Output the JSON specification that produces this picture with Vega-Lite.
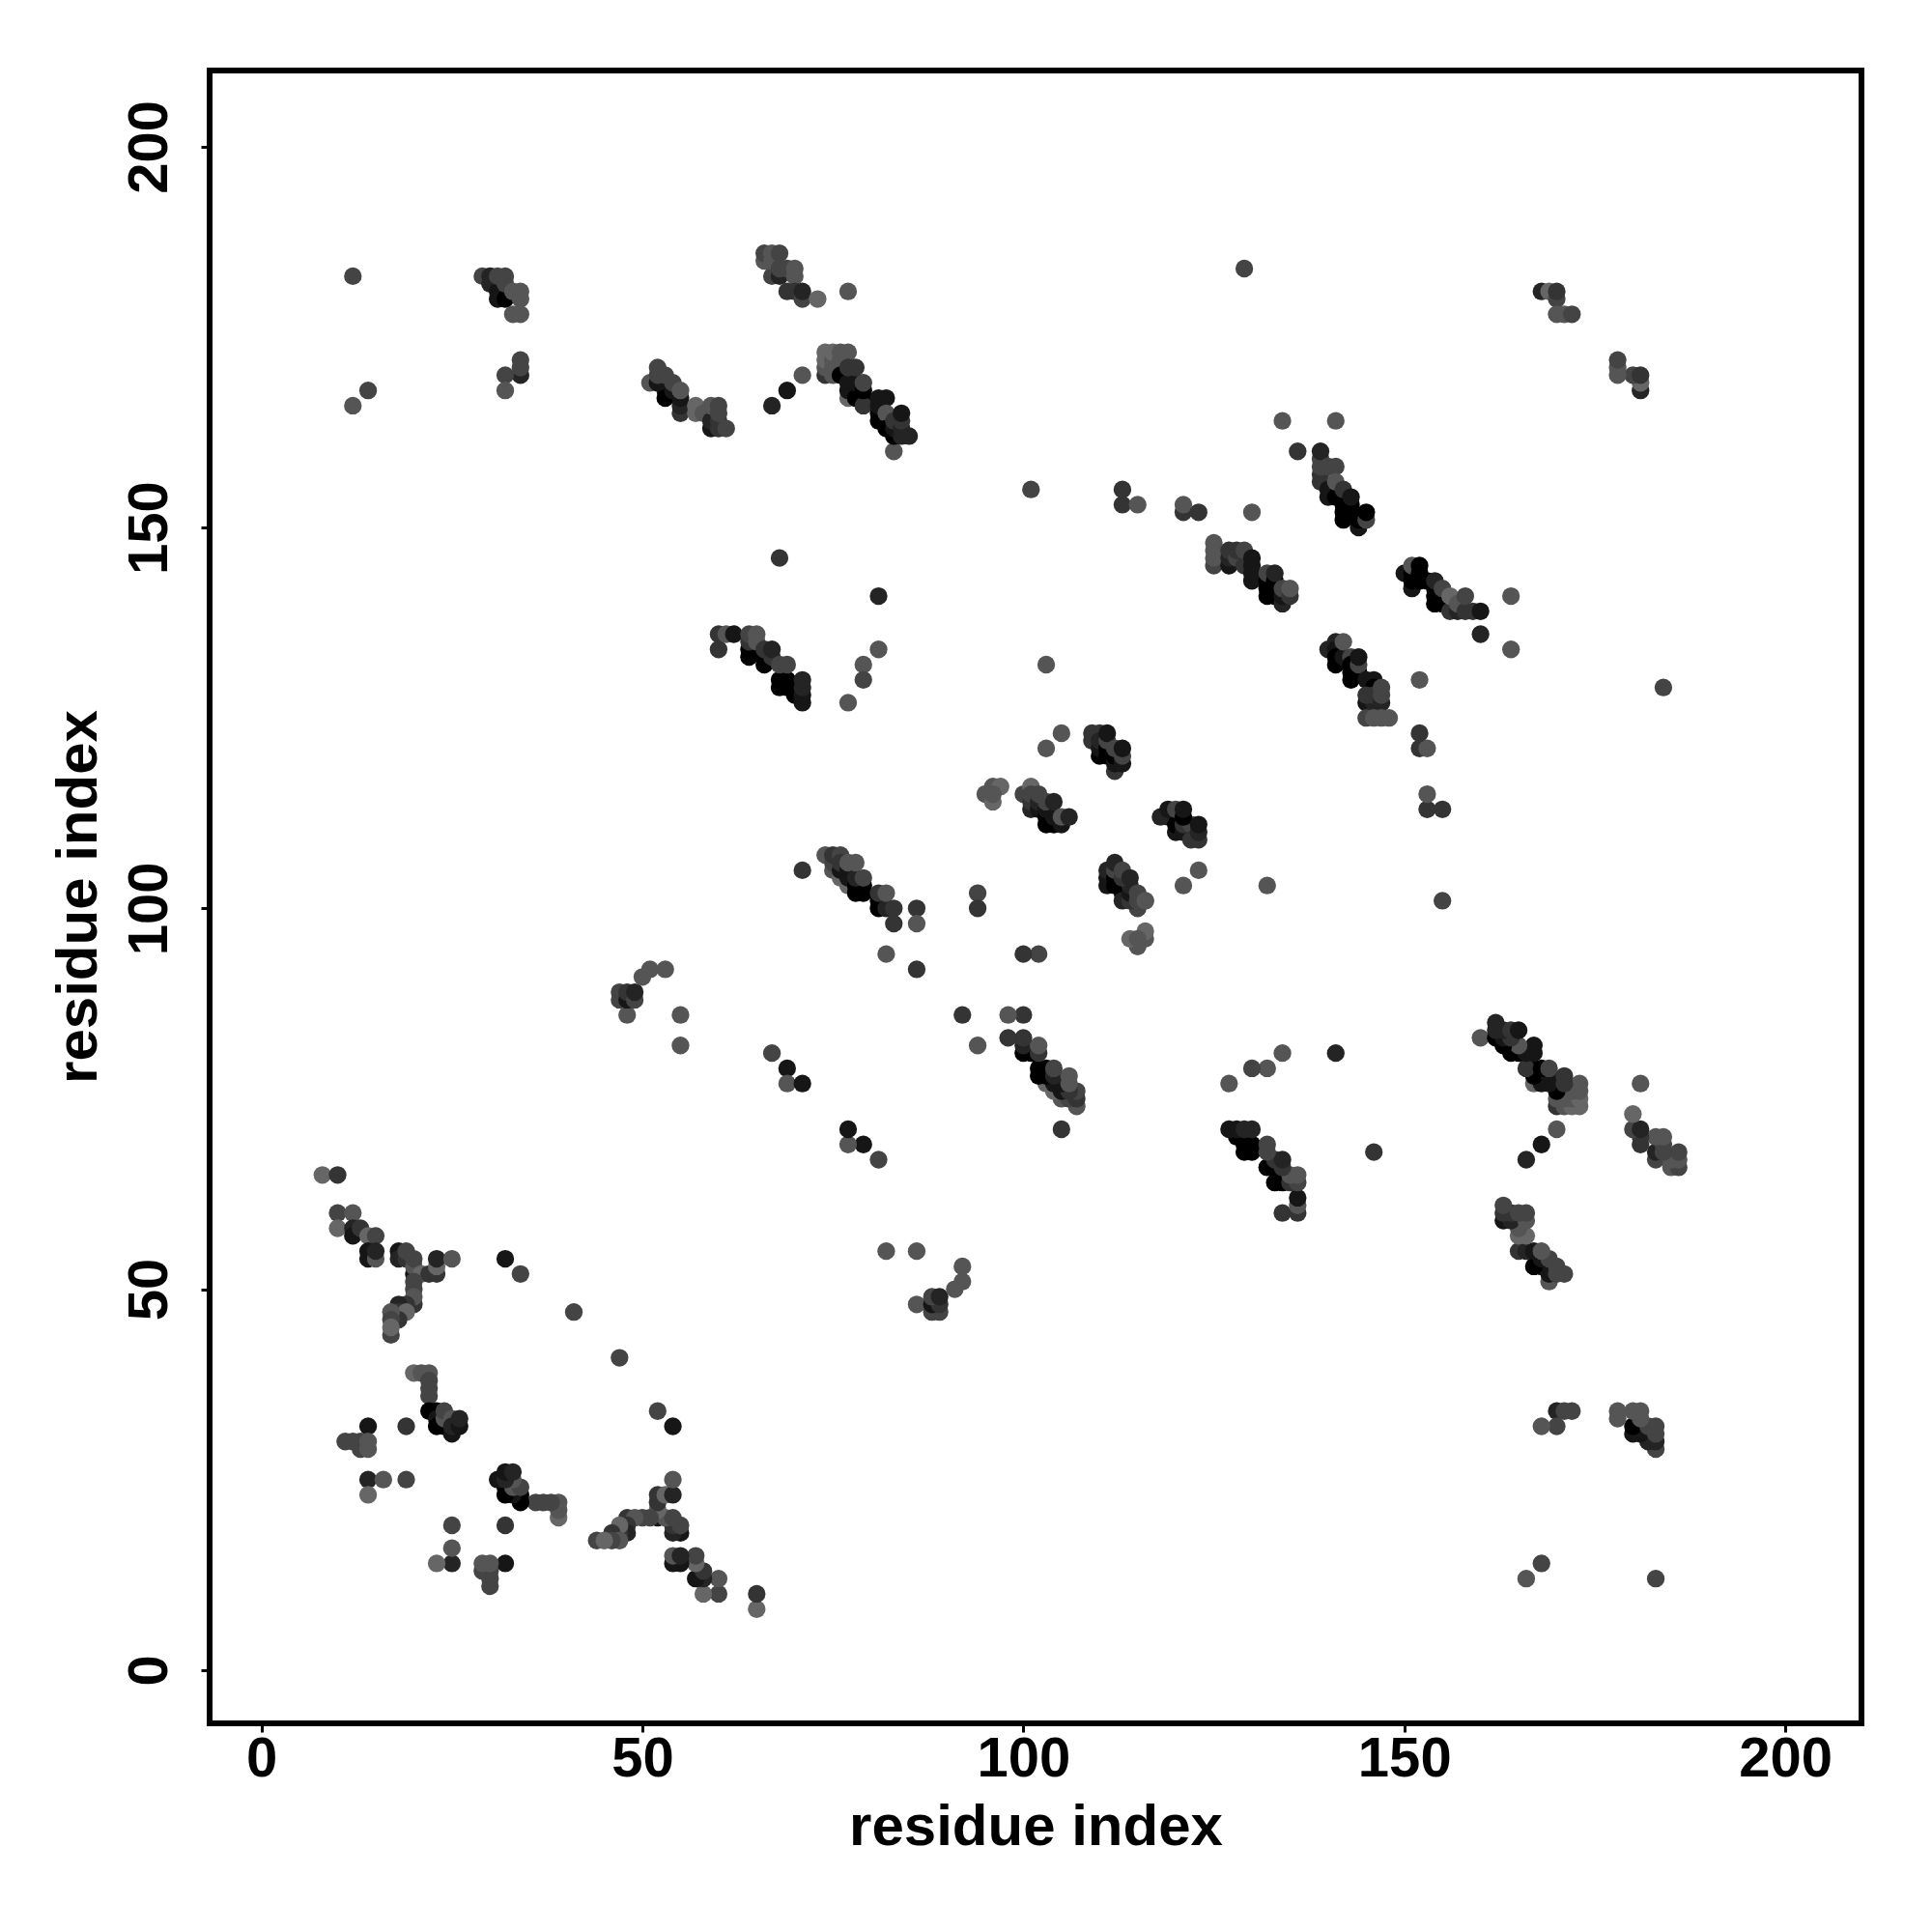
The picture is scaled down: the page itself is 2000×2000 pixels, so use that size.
{"$schema":"https://vega.github.io/schema/vega-lite/v6.json","autosize":{"type":"none"},"padding":{"left":217,"top":73,"right":73,"bottom":216},"width":1710,"height":1711,"background":"white","view":{"stroke":"#000000","strokeWidth":6,"fill":null},
"config":{"axis":{"grid":false,"domain":false,"tickColor":"#000","tickSize":9,"tickWidth":3,"labelFont":"Liberation Sans","labelFontWeight":"bold","labelFontSize":58,"labelColor":"#000","titleFont":"Liberation Sans","titleFontWeight":"bold","titleFontSize":60,"titleColor":"#000"}},
"data":{"values":[
{"x":8,"y":65,"c":6},{"x":10,"y":65,"c":3},{"x":10,"y":60,"c":4},{"x":12,"y":60,"c":5},{"x":10,"y":58,"c":6},{"x":12,"y":58,"c":2},{"x":12,"y":57,"c":1},{"x":13,"y":58,"c":3},{"x":14,"y":57,"c":6},{"x":15,"y":57,"c":4},{"x":14,"y":55,"c":1},{"x":14,"y":54,"c":1},{"x":15,"y":54,"c":5},{"x":15,"y":55,"c":2},{"x":18,"y":55,"c":1},{"x":18,"y":54,"c":2},{"x":19,"y":54,"c":3},{"x":19,"y":55,"c":4},{"x":20,"y":52,"c":1},{"x":20,"y":53,"c":5},{"x":20,"y":54,"c":4},{"x":21,"y":52,"c":6},{"x":22,"y":52,"c":3},{"x":23,"y":52,"c":3},{"x":23,"y":53,"c":6},{"x":23,"y":54,"c":2},{"x":25,"y":54,"c":5},{"x":32,"y":54,"c":1},{"x":34,"y":52,"c":4},{"x":41,"y":47,"c":4},{"x":20,"y":51,"c":4},{"x":20,"y":50,"c":4},{"x":20,"y":48,"c":3},{"x":20,"y":49,"c":5},{"x":19,"y":48,"c":3},{"x":18,"y":48,"c":2},{"x":18,"y":47,"c":3},{"x":19,"y":47,"c":6},{"x":18,"y":46,"c":3},{"x":17,"y":47,"c":5},{"x":17,"y":46,"c":4},{"x":17,"y":44,"c":4},{"x":17,"y":45,"c":6},
{"x":20,"y":39,"c":6},{"x":21,"y":39,"c":5},{"x":22,"y":39,"c":5},{"x":22,"y":38,"c":4},{"x":22,"y":37,"c":4},{"x":22,"y":36,"c":4},{"x":22,"y":34,"c":0},{"x":23,"y":34,"c":0},{"x":23,"y":33,"c":1},{"x":23,"y":32,"c":0},{"x":24,"y":32,"c":0},{"x":24,"y":33,"c":5},{"x":24,"y":34,"c":4},{"x":25,"y":31,"c":1},{"x":25,"y":33,"c":5},{"x":25,"y":32,"c":2},{"x":26,"y":32,"c":1},{"x":26,"y":33,"c":2},
{"x":14,"y":32,"c":1},{"x":19,"y":32,"c":3},{"x":11,"y":30,"c":4},{"x":12,"y":30,"c":4},{"x":13,"y":30,"c":4},{"x":13,"y":29,"c":4},{"x":14,"y":29,"c":5},{"x":14,"y":30,"c":5},{"x":14,"y":25,"c":2},{"x":16,"y":25,"c":5},{"x":19,"y":25,"c":4},{"x":14,"y":23,"c":6},
{"x":12,"y":183,"c":4},{"x":12,"y":166,"c":5},{"x":14,"y":168,"c":4},{"x":29,"y":183,"c":4},{"x":30,"y":183,"c":2},{"x":30,"y":182,"c":2},{"x":31,"y":181,"c":1},{"x":31,"y":180,"c":1},{"x":32,"y":180,"c":0},{"x":31,"y":183,"c":4},{"x":32,"y":183,"c":4},{"x":32,"y":182,"c":4},{"x":33,"y":181,"c":5},{"x":34,"y":181,"c":5},{"x":34,"y":180,"c":5},{"x":33,"y":178,"c":5},{"x":34,"y":178,"c":5},{"x":34,"y":170,"c":2},{"x":34,"y":172,"c":4},{"x":34,"y":171,"c":4},{"x":32,"y":170,"c":4},{"x":32,"y":168,"c":5},
{"x":51,"y":169,"c":5},{"x":52,"y":169,"c":1},{"x":53,"y":169,"c":1},{"x":53,"y":168,"c":1},{"x":53,"y":167,"c":0},{"x":54,"y":168,"c":1},{"x":52,"y":171,"c":4},{"x":52,"y":170,"c":4},{"x":53,"y":170,"c":4},{"x":54,"y":169,"c":4},{"x":55,"y":165,"c":3},{"x":55,"y":166,"c":2},{"x":55,"y":167,"c":1},{"x":55,"y":168,"c":5},{"x":57,"y":165,"c":6},{"x":57,"y":166,"c":6},{"x":58,"y":165,"c":5},{"x":59,"y":163,"c":1},{"x":59,"y":164,"c":2},{"x":60,"y":163,"c":3},{"x":60,"y":164,"c":3},{"x":59,"y":166,"c":5},{"x":60,"y":165,"c":4},{"x":60,"y":166,"c":4},{"x":61,"y":163,"c":4},
{"x":66,"y":185,"c":5},{"x":66,"y":186,"c":4},{"x":67,"y":183,"c":4},{"x":67,"y":185,"c":5},{"x":67,"y":186,"c":5},{"x":68,"y":186,"c":4},{"x":68,"y":183,"c":2},{"x":68,"y":184,"c":4},{"x":69,"y":181,"c":3},{"x":69,"y":184,"c":4},{"x":70,"y":183,"c":5},{"x":70,"y":184,"c":5},{"x":70,"y":181,"c":3},{"x":71,"y":180,"c":4},{"x":71,"y":181,"c":2},{"x":73,"y":180,"c":6},{"x":77,"y":181,"c":5},
{"x":74,"y":170,"c":3},{"x":74,"y":171,"c":5},{"x":74,"y":172,"c":6},{"x":74,"y":173,"c":6},{"x":75,"y":170,"c":5},{"x":75,"y":171,"c":5},{"x":75,"y":172,"c":5},{"x":75,"y":173,"c":6},{"x":76,"y":172,"c":5},{"x":76,"y":173,"c":5},{"x":77,"y":173,"c":5},{"x":77,"y":167,"c":6},{"x":76,"y":170,"c":0},{"x":77,"y":169,"c":1},{"x":77,"y":168,"c":1},{"x":78,"y":168,"c":1},{"x":78,"y":167,"c":0},{"x":79,"y":167,"c":0},{"x":79,"y":166,"c":3},{"x":78,"y":169,"c":1},{"x":79,"y":168,"c":0},{"x":79,"y":169,"c":4},{"x":77,"y":171,"c":3},{"x":78,"y":171,"c":3},{"x":81,"y":164,"c":0},{"x":81,"y":165,"c":0},{"x":81,"y":166,"c":1},{"x":81,"y":167,"c":1},{"x":82,"y":167,"c":1},{"x":82,"y":165,"c":5},{"x":82,"y":163,"c":0},{"x":83,"y":160,"c":5},{"x":83,"y":162,"c":0},{"x":83,"y":163,"c":1},{"x":83,"y":164,"c":3},{"x":84,"y":162,"c":2},{"x":84,"y":163,"c":2},{"x":84,"y":164,"c":3},{"x":84,"y":165,"c":1},{"x":85,"y":162,"c":2},{"x":71,"y":170,"c":5},{"x":69,"y":168,"c":1},{"x":67,"y":166,"c":2},{"x":68,"y":146,"c":3},{"x":81,"y":141,"c":2},
{"x":60,"y":136,"c":3},{"x":60,"y":134,"c":3},{"x":61,"y":136,"c":5},{"x":62,"y":136,"c":1},{"x":64,"y":133,"c":0},{"x":64,"y":134,"c":0},{"x":64,"y":135,"c":3},{"x":64,"y":136,"c":4},{"x":65,"y":135,"c":5},{"x":65,"y":136,"c":5},{"x":66,"y":132,"c":0},{"x":66,"y":133,"c":0},{"x":66,"y":134,"c":3},{"x":67,"y":133,"c":3},{"x":67,"y":134,"c":2},{"x":68,"y":129,"c":0},{"x":68,"y":130,"c":0},{"x":69,"y":129,"c":0},{"x":69,"y":130,"c":0},{"x":68,"y":132,"c":4},{"x":69,"y":132,"c":4},{"x":70,"y":128,"c":0},{"x":71,"y":127,"c":1},{"x":71,"y":128,"c":1},{"x":71,"y":129,"c":2},{"x":71,"y":130,"c":2},{"x":81,"y":134,"c":5},{"x":79,"y":132,"c":5},{"x":79,"y":130,"c":4},{"x":77,"y":127,"c":5},
{"x":121,"y":152,"c":3},{"x":121,"y":153,"c":5},{"x":123,"y":152,"c":3},{"x":130,"y":152,"c":5},{"x":113,"y":155,"c":3},{"x":113,"y":153,"c":3},{"x":115,"y":153,"c":5},{"x":101,"y":155,"c":4},{"x":129,"y":184,"c":4},{"x":103,"y":132,"c":5},{"x":105,"y":123,"c":5},{"x":103,"y":121,"c":5},
{"x":71,"y":105,"c":3},{"x":74,"y":107,"c":5},{"x":75,"y":105,"c":5},{"x":76,"y":104,"c":6},{"x":77,"y":103,"c":6},{"x":75,"y":106,"c":4},{"x":75,"y":107,"c":3},{"x":76,"y":107,"c":4},{"x":76,"y":105,"c":1},{"x":76,"y":106,"c":3},{"x":77,"y":104,"c":1},{"x":77,"y":105,"c":1},{"x":77,"y":106,"c":5},{"x":78,"y":102,"c":0},{"x":78,"y":103,"c":0},{"x":79,"y":102,"c":0},{"x":79,"y":103,"c":0},{"x":78,"y":104,"c":2},{"x":78,"y":106,"c":5},{"x":79,"y":104,"c":4},{"x":81,"y":100,"c":0},{"x":81,"y":101,"c":0},{"x":81,"y":102,"c":3},{"x":82,"y":100,"c":2},{"x":82,"y":102,"c":5},{"x":83,"y":100,"c":3},{"x":83,"y":98,"c":3},{"x":86,"y":100,"c":3},{"x":86,"y":98,"c":5},{"x":82,"y":94,"c":5},{"x":86,"y":92,"c":3},{"x":94,"y":102,"c":4},{"x":94,"y":100,"c":3},
{"x":95,"y":115,"c":5},{"x":96,"y":116,"c":5},{"x":97,"y":116,"c":6},{"x":96,"y":114,"c":6},{"x":96,"y":115,"c":5},
{"x":47,"y":88,"c":4},{"x":47,"y":89,"c":4},{"x":48,"y":86,"c":5},{"x":48,"y":88,"c":1},{"x":48,"y":89,"c":3},{"x":49,"y":88,"c":4},{"x":49,"y":89,"c":2},{"x":50,"y":91,"c":5},{"x":51,"y":92,"c":5},{"x":53,"y":92,"c":5},{"x":55,"y":86,"c":5},{"x":55,"y":82,"c":5},{"x":67,"y":81,"c":4},{"x":69,"y":79,"c":1},{"x":69,"y":77,"c":5},{"x":71,"y":77,"c":1},
{"x":65,"y":8,"c":6},{"x":65,"y":10,"c":3},{"x":60,"y":10,"c":4},{"x":60,"y":12,"c":5},{"x":58,"y":10,"c":6},{"x":58,"y":12,"c":2},{"x":57,"y":12,"c":1},{"x":58,"y":13,"c":3},{"x":57,"y":14,"c":6},{"x":57,"y":15,"c":4},{"x":55,"y":14,"c":1},{"x":54,"y":14,"c":1},{"x":54,"y":15,"c":5},{"x":55,"y":15,"c":2},{"x":55,"y":18,"c":1},{"x":54,"y":18,"c":2},{"x":54,"y":19,"c":3},{"x":55,"y":19,"c":4},{"x":52,"y":20,"c":1},{"x":53,"y":20,"c":5},{"x":54,"y":20,"c":4},{"x":52,"y":21,"c":6},{"x":52,"y":22,"c":3},{"x":52,"y":23,"c":3},{"x":53,"y":23,"c":6},{"x":54,"y":23,"c":2},{"x":54,"y":25,"c":5},{"x":54,"y":32,"c":1},{"x":52,"y":34,"c":4},{"x":47,"y":41,"c":4},{"x":51,"y":20,"c":4},{"x":50,"y":20,"c":4},{"x":48,"y":20,"c":3},{"x":49,"y":20,"c":5},{"x":48,"y":19,"c":3},{"x":48,"y":18,"c":2},{"x":47,"y":18,"c":3},{"x":47,"y":19,"c":6},{"x":46,"y":18,"c":3},{"x":47,"y":17,"c":5},{"x":46,"y":17,"c":4},{"x":44,"y":17,"c":4},{"x":45,"y":17,"c":6},
{"x":39,"y":20,"c":6},{"x":39,"y":21,"c":5},{"x":39,"y":22,"c":5},{"x":38,"y":22,"c":4},{"x":37,"y":22,"c":4},{"x":36,"y":22,"c":4},{"x":34,"y":22,"c":0},{"x":34,"y":23,"c":0},{"x":33,"y":23,"c":1},{"x":32,"y":23,"c":0},{"x":32,"y":24,"c":0},{"x":33,"y":24,"c":5},{"x":34,"y":24,"c":4},{"x":31,"y":25,"c":1},{"x":33,"y":25,"c":5},{"x":32,"y":25,"c":2},{"x":32,"y":26,"c":1},{"x":33,"y":26,"c":2},
{"x":32,"y":14,"c":1},{"x":32,"y":19,"c":3},{"x":30,"y":11,"c":4},{"x":30,"y":12,"c":4},{"x":30,"y":13,"c":4},{"x":29,"y":13,"c":4},{"x":29,"y":14,"c":5},{"x":30,"y":14,"c":5},{"x":25,"y":14,"c":2},{"x":25,"y":16,"c":5},{"x":25,"y":19,"c":4},{"x":23,"y":14,"c":6},
{"x":183,"y":12,"c":4},{"x":166,"y":12,"c":5},{"x":168,"y":14,"c":4},{"x":183,"y":29,"c":4},{"x":183,"y":30,"c":2},{"x":182,"y":30,"c":2},{"x":181,"y":31,"c":1},{"x":180,"y":31,"c":1},{"x":180,"y":32,"c":0},{"x":183,"y":31,"c":4},{"x":183,"y":32,"c":4},{"x":182,"y":32,"c":4},{"x":181,"y":33,"c":5},{"x":181,"y":34,"c":5},{"x":180,"y":34,"c":5},{"x":178,"y":33,"c":5},{"x":178,"y":34,"c":5},{"x":170,"y":34,"c":2},{"x":172,"y":34,"c":4},{"x":171,"y":34,"c":4},{"x":170,"y":32,"c":4},{"x":168,"y":32,"c":5},
{"x":169,"y":51,"c":5},{"x":169,"y":52,"c":1},{"x":169,"y":53,"c":1},{"x":168,"y":53,"c":1},{"x":167,"y":53,"c":0},{"x":168,"y":54,"c":1},{"x":171,"y":52,"c":4},{"x":170,"y":52,"c":4},{"x":170,"y":53,"c":4},{"x":169,"y":54,"c":4},{"x":165,"y":55,"c":3},{"x":166,"y":55,"c":2},{"x":167,"y":55,"c":1},{"x":168,"y":55,"c":5},{"x":165,"y":57,"c":6},{"x":166,"y":57,"c":6},{"x":165,"y":58,"c":5},{"x":163,"y":59,"c":1},{"x":164,"y":59,"c":2},{"x":163,"y":60,"c":3},{"x":164,"y":60,"c":3},{"x":166,"y":59,"c":5},{"x":165,"y":60,"c":4},{"x":166,"y":60,"c":4},{"x":163,"y":61,"c":4},
{"x":185,"y":66,"c":5},{"x":186,"y":66,"c":4},{"x":183,"y":67,"c":4},{"x":185,"y":67,"c":5},{"x":186,"y":67,"c":5},{"x":186,"y":68,"c":4},{"x":183,"y":68,"c":2},{"x":184,"y":68,"c":4},{"x":181,"y":69,"c":3},{"x":184,"y":69,"c":4},{"x":183,"y":70,"c":5},{"x":184,"y":70,"c":5},{"x":181,"y":70,"c":3},{"x":180,"y":71,"c":4},{"x":181,"y":71,"c":2},{"x":180,"y":73,"c":6},{"x":181,"y":77,"c":5},
{"x":170,"y":74,"c":3},{"x":171,"y":74,"c":5},{"x":172,"y":74,"c":6},{"x":173,"y":74,"c":6},{"x":170,"y":75,"c":5},{"x":171,"y":75,"c":5},{"x":172,"y":75,"c":5},{"x":173,"y":75,"c":6},{"x":172,"y":76,"c":5},{"x":173,"y":76,"c":5},{"x":173,"y":77,"c":5},{"x":167,"y":77,"c":6},{"x":170,"y":76,"c":0},{"x":169,"y":77,"c":1},{"x":168,"y":77,"c":1},{"x":168,"y":78,"c":1},{"x":167,"y":78,"c":0},{"x":167,"y":79,"c":0},{"x":166,"y":79,"c":3},{"x":169,"y":78,"c":1},{"x":168,"y":79,"c":0},{"x":169,"y":79,"c":4},{"x":171,"y":77,"c":3},{"x":171,"y":78,"c":3},{"x":164,"y":81,"c":0},{"x":165,"y":81,"c":0},{"x":166,"y":81,"c":1},{"x":167,"y":81,"c":1},{"x":167,"y":82,"c":1},{"x":165,"y":82,"c":5},{"x":163,"y":82,"c":0},{"x":160,"y":83,"c":5},{"x":162,"y":83,"c":0},{"x":163,"y":83,"c":1},{"x":164,"y":83,"c":3},{"x":162,"y":84,"c":2},{"x":163,"y":84,"c":2},{"x":164,"y":84,"c":3},{"x":165,"y":84,"c":1},{"x":162,"y":85,"c":2},{"x":170,"y":71,"c":5},{"x":168,"y":69,"c":1},{"x":166,"y":67,"c":2},{"x":146,"y":68,"c":3},{"x":141,"y":81,"c":2},
{"x":136,"y":60,"c":3},{"x":134,"y":60,"c":3},{"x":136,"y":61,"c":5},{"x":136,"y":62,"c":1},{"x":133,"y":64,"c":0},{"x":134,"y":64,"c":0},{"x":135,"y":64,"c":3},{"x":136,"y":64,"c":4},{"x":135,"y":65,"c":5},{"x":136,"y":65,"c":5},{"x":132,"y":66,"c":0},{"x":133,"y":66,"c":0},{"x":134,"y":66,"c":3},{"x":133,"y":67,"c":3},{"x":134,"y":67,"c":2},{"x":129,"y":68,"c":0},{"x":130,"y":68,"c":0},{"x":129,"y":69,"c":0},{"x":130,"y":69,"c":0},{"x":132,"y":68,"c":4},{"x":132,"y":69,"c":4},{"x":128,"y":70,"c":0},{"x":127,"y":71,"c":1},{"x":128,"y":71,"c":1},{"x":129,"y":71,"c":2},{"x":130,"y":71,"c":2},{"x":134,"y":81,"c":5},{"x":132,"y":79,"c":5},{"x":130,"y":79,"c":4},{"x":127,"y":77,"c":5},
{"x":152,"y":121,"c":3},{"x":153,"y":121,"c":5},{"x":152,"y":123,"c":3},{"x":152,"y":130,"c":5},{"x":155,"y":113,"c":3},{"x":153,"y":113,"c":3},{"x":153,"y":115,"c":5},{"x":155,"y":101,"c":4},{"x":184,"y":129,"c":4},{"x":132,"y":103,"c":5},{"x":123,"y":105,"c":5},{"x":121,"y":103,"c":5},
{"x":105,"y":71,"c":3},{"x":107,"y":74,"c":5},{"x":105,"y":75,"c":5},{"x":104,"y":76,"c":6},{"x":103,"y":77,"c":6},{"x":106,"y":75,"c":4},{"x":107,"y":75,"c":3},{"x":107,"y":76,"c":4},{"x":105,"y":76,"c":1},{"x":106,"y":76,"c":3},{"x":104,"y":77,"c":1},{"x":105,"y":77,"c":1},{"x":106,"y":77,"c":5},{"x":102,"y":78,"c":0},{"x":103,"y":78,"c":0},{"x":102,"y":79,"c":0},{"x":103,"y":79,"c":0},{"x":104,"y":78,"c":2},{"x":106,"y":78,"c":5},{"x":104,"y":79,"c":4},{"x":100,"y":81,"c":0},{"x":101,"y":81,"c":0},{"x":102,"y":81,"c":3},{"x":100,"y":82,"c":2},{"x":102,"y":82,"c":5},{"x":100,"y":83,"c":3},{"x":98,"y":83,"c":3},{"x":100,"y":86,"c":3},{"x":98,"y":86,"c":5},{"x":94,"y":82,"c":5},{"x":92,"y":86,"c":3},{"x":102,"y":94,"c":4},{"x":100,"y":94,"c":3},
{"x":115,"y":95,"c":5},{"x":116,"y":96,"c":5},{"x":116,"y":97,"c":6},{"x":114,"y":96,"c":6},{"x":115,"y":96,"c":5},
{"x":88,"y":47,"c":4},{"x":89,"y":47,"c":4},{"x":86,"y":48,"c":5},{"x":88,"y":48,"c":1},{"x":89,"y":48,"c":3},{"x":88,"y":49,"c":4},{"x":89,"y":49,"c":2},{"x":91,"y":50,"c":5},{"x":92,"y":51,"c":5},{"x":92,"y":53,"c":5},{"x":86,"y":55,"c":5},{"x":82,"y":55,"c":5},{"x":81,"y":67,"c":4},{"x":79,"y":69,"c":1},{"x":77,"y":69,"c":5},{"x":77,"y":71,"c":1},
{"x":134,"y":164,"c":5},{"x":141,"y":164,"c":5},{"x":136,"y":160,"c":3},{"x":139,"y":156,"c":3},{"x":139,"y":157,"c":3},{"x":139,"y":158,"c":4},{"x":139,"y":159,"c":4},{"x":139,"y":160,"c":2},{"x":140,"y":154,"c":1},{"x":140,"y":155,"c":1},{"x":140,"y":158,"c":4},{"x":141,"y":158,"c":4},{"x":141,"y":154,"c":0},{"x":141,"y":156,"c":5},{"x":142,"y":151,"c":0},{"x":142,"y":152,"c":0},{"x":142,"y":153,"c":0},{"x":142,"y":155,"c":3},{"x":143,"y":152,"c":0},{"x":143,"y":153,"c":0},{"x":143,"y":154,"c":1},{"x":144,"y":150,"c":1},{"x":144,"y":151,"c":0},{"x":145,"y":151,"c":4},{"x":145,"y":152,"c":0},
{"x":125,"y":145,"c":4},{"x":125,"y":146,"c":5},{"x":125,"y":147,"c":5},{"x":125,"y":148,"c":5},{"x":127,"y":145,"c":1},{"x":127,"y":146,"c":2},{"x":127,"y":147,"c":3},{"x":128,"y":146,"c":4},{"x":128,"y":147,"c":3},{"x":129,"y":145,"c":3},{"x":129,"y":147,"c":4},{"x":130,"y":143,"c":1},{"x":130,"y":144,"c":1},{"x":130,"y":145,"c":1},{"x":130,"y":146,"c":1},{"x":132,"y":141,"c":0},{"x":132,"y":142,"c":0},{"x":132,"y":143,"c":0},{"x":132,"y":144,"c":4},{"x":133,"y":141,"c":0},{"x":133,"y":142,"c":0},{"x":133,"y":143,"c":0},{"x":133,"y":144,"c":2},{"x":134,"y":140,"c":2},{"x":134,"y":141,"c":1},{"x":134,"y":142,"c":4},{"x":135,"y":141,"c":3},{"x":135,"y":142,"c":5},
{"x":150,"y":144,"c":1},{"x":151,"y":142,"c":1},{"x":151,"y":143,"c":0},{"x":151,"y":144,"c":0},{"x":151,"y":145,"c":5},{"x":152,"y":143,"c":0},{"x":152,"y":144,"c":0},{"x":152,"y":145,"c":0},{"x":153,"y":143,"c":0},{"x":154,"y":140,"c":0},{"x":154,"y":141,"c":0},{"x":154,"y":142,"c":0},{"x":154,"y":143,"c":2},{"x":155,"y":140,"c":0},{"x":155,"y":142,"c":4},{"x":156,"y":139,"c":3},{"x":156,"y":141,"c":6},{"x":157,"y":139,"c":2},{"x":157,"y":140,"c":5},{"x":158,"y":139,"c":3},{"x":158,"y":141,"c":4},{"x":159,"y":139,"c":3},{"x":160,"y":139,"c":1},{"x":160,"y":136,"c":2},{"x":164,"y":141,"c":5},{"x":164,"y":134,"c":5},
{"x":140,"y":134,"c":2},{"x":141,"y":135,"c":2},{"x":141,"y":134,"c":1},{"x":141,"y":133,"c":0},{"x":141,"y":132,"c":0},{"x":142,"y":133,"c":1},{"x":142,"y":135,"c":5},{"x":143,"y":133,"c":4},{"x":143,"y":132,"c":0},{"x":143,"y":131,"c":0},{"x":143,"y":130,"c":0},{"x":144,"y":131,"c":0},{"x":144,"y":132,"c":4},{"x":144,"y":133,"c":1},{"x":145,"y":130,"c":1},{"x":146,"y":130,"c":1},{"x":146,"y":129,"c":0},{"x":145,"y":127,"c":1},{"x":146,"y":127,"c":2},{"x":145,"y":128,"c":3},{"x":146,"y":128,"c":3},{"x":147,"y":127,"c":2},{"x":147,"y":128,"c":4},{"x":147,"y":129,"c":4},{"x":145,"y":125,"c":4},{"x":146,"y":125,"c":5},{"x":147,"y":125,"c":5},{"x":148,"y":125,"c":5},
{"x":100,"y":115,"c":4},{"x":101,"y":116,"c":6},{"x":101,"y":113,"c":2},{"x":101,"y":114,"c":3},{"x":101,"y":115,"c":4},{"x":102,"y":113,"c":1},{"x":102,"y":114,"c":2},{"x":102,"y":115,"c":4},{"x":103,"y":111,"c":0},{"x":103,"y":112,"c":0},{"x":103,"y":113,"c":1},{"x":103,"y":114,"c":4},{"x":104,"y":111,"c":0},{"x":104,"y":112,"c":1},{"x":104,"y":114,"c":2},{"x":105,"y":111,"c":1},{"x":105,"y":112,"c":5},{"x":106,"y":112,"c":2},
{"x":115,"y":100,"c":4},{"x":116,"y":101,"c":5},{"x":111,"y":103,"c":1},{"x":111,"y":104,"c":1},{"x":111,"y":105,"c":2},{"x":112,"y":103,"c":0},{"x":112,"y":104,"c":0},{"x":113,"y":102,"c":0},{"x":113,"y":103,"c":0},{"x":113,"y":101,"c":2},{"x":114,"y":101,"c":3},{"x":114,"y":102,"c":1},{"x":114,"y":103,"c":2},{"x":112,"y":105,"c":4},{"x":112,"y":106,"c":2},{"x":113,"y":104,"c":3},{"x":113,"y":105,"c":4},{"x":114,"y":104,"c":2},{"x":115,"y":101,"c":4},{"x":115,"y":102,"c":4},{"x":116,"y":101,"c":5},
{"x":109,"y":122,"c":3},{"x":109,"y":123,"c":3},{"x":110,"y":123,"c":3},{"x":110,"y":120,"c":0},{"x":110,"y":121,"c":1},{"x":110,"y":122,"c":2},{"x":111,"y":120,"c":0},{"x":111,"y":121,"c":0},{"x":111,"y":122,"c":4},{"x":111,"y":123,"c":1},{"x":112,"y":118,"c":3},{"x":112,"y":119,"c":1},{"x":112,"y":120,"c":0},{"x":112,"y":121,"c":4},{"x":113,"y":119,"c":1},{"x":113,"y":120,"c":4},{"x":113,"y":121,"c":1},
{"x":119,"y":112,"c":1},{"x":120,"y":110,"c":1},{"x":120,"y":111,"c":0},{"x":121,"y":110,"c":1},{"x":122,"y":110,"c":1},{"x":121,"y":111,"c":3},{"x":122,"y":111,"c":4},{"x":122,"y":109,"c":3},{"x":123,"y":109,"c":3},{"x":123,"y":110,"c":2},{"x":118,"y":112,"c":2},{"x":119,"y":113,"c":1},{"x":120,"y":113,"c":4},{"x":121,"y":112,"c":0},{"x":121,"y":113,"c":1},{"x":123,"y":111,"c":1},
{"x":168,"y":181,"c":2},{"x":169,"y":181,"c":6},{"x":170,"y":180,"c":4},{"x":170,"y":181,"c":3},{"x":170,"y":178,"c":5},{"x":171,"y":178,"c":5},{"x":172,"y":178,"c":4},{"x":181,"y":168,"c":2},{"x":181,"y":169,"c":6},{"x":180,"y":170,"c":4},{"x":181,"y":170,"c":3},{"x":178,"y":170,"c":5},{"x":178,"y":171,"c":5},{"x":178,"y":172,"c":4}
]},
"mark":{"type":"circle","size":335,"opacity":1},"encoding":{"x":{"field":"x","type":"quantitative","scale":{"domain":[-6.8,210],"nice":false,"zero":false},"axis":{"values":[0,50,100,150,200],"title":"residue index","titleX":855,"titleY":125,"titleBaseline":"alphabetic","labelPadding":-1,"labelBaseline":"top"}},"y":{"field":"y","type":"quantitative","scale":{"domain":[-7,210],"nice":false,"zero":false},"axis":{"values":[0,50,100,150,200],"title":"residue index","titleX":-118,"titleY":855,"titleBaseline":"alphabetic","titleAngle":270,"labelAngle":270,"labelAlign":"center","labelBaseline":"alphabetic","labelPadding":36}},"color":{"field":"c","type":"quantitative","scale":{"domain":[0,6],"range":["#000000","#666666"]},"legend":null}}}
